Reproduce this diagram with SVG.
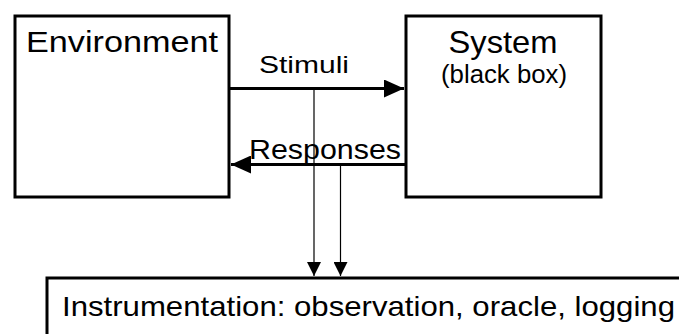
<svg xmlns="http://www.w3.org/2000/svg" width="679" height="334" viewBox="0 0 679 334">
<style>
  .box { fill: #fff; stroke: #000; stroke-width: 3; }
  .t { font-family: "Liberation Sans", Arial, Helvetica, sans-serif; fill: #000; }
  .thick { stroke: #000; stroke-width: 3; fill: none; }
  .thin { stroke: #000; stroke-width: 1.2; fill: none; }
</style>
<defs>
  <marker id="ah" viewBox="0 0 20 18" refX="20" refY="9" markerUnits="userSpaceOnUse" markerWidth="20" markerHeight="18" orient="auto">
    <path d="M0,0 L20,9 L0,18 Z" fill="#000"/>
  </marker>
  <marker id="ahs" viewBox="0 0 14 14" refX="14" refY="7" markerUnits="userSpaceOnUse" markerWidth="14" markerHeight="14" orient="auto">
    <path d="M0,0 L14,7 L0,14 Z" fill="#000"/>
  </marker>
</defs>
<g id="environment">
  <rect class="box" x="15" y="16" width="214" height="181"/>
  <text class="t" x="26" y="52" font-size="29" textLength="192" lengthAdjust="spacingAndGlyphs">Environment</text>
</g>
<g id="system">
  <rect class="box" x="406" y="16" width="195" height="181"/>
  <text class="t" x="503" y="53" font-size="32" text-anchor="middle" textLength="109" lengthAdjust="spacingAndGlyphs">System</text>
  <text class="t" x="504" y="83" font-size="25" text-anchor="middle" textLength="126" lengthAdjust="spacingAndGlyphs">(black box)</text>
</g>
<g id="instrumentation">
  <rect class="box" x="47" y="278" width="660" height="80"/>
  <text class="t" x="62" y="316" font-size="28" textLength="613" lengthAdjust="spacingAndGlyphs">Instrumentation: observation, oracle, logging</text>
</g>
<g id="connectors">
  <line class="thick" x1="230" y1="88.5" x2="404" y2="88.5" marker-end="url(#ah)"/>
  <line class="thick" x1="406" y1="164.5" x2="231" y2="164.5" marker-end="url(#ah)"/>
  <line class="thin" x1="314" y1="88.5" x2="314" y2="276" marker-end="url(#ahs)"/>
  <line class="thin" x1="340.5" y1="166" x2="340.5" y2="276" marker-end="url(#ahs)"/>
  <text class="t" x="259" y="73" font-size="24.5" textLength="90" lengthAdjust="spacingAndGlyphs">Stimuli</text>
  <text class="t" x="249" y="158.5" font-size="28" textLength="152" lengthAdjust="spacingAndGlyphs">Responses</text>
</g>
</svg>
